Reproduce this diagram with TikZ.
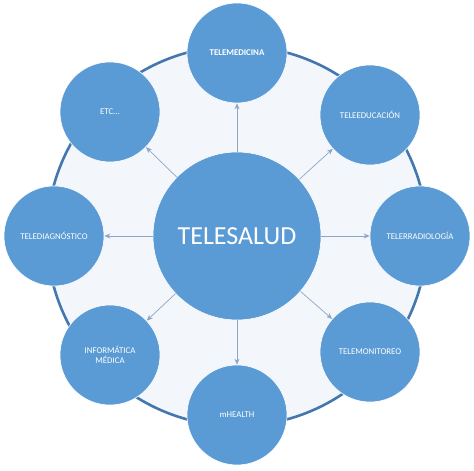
\documentclass[tikz,border=0pt]{standalone}
\usepackage{fontspec}
\setmainfont{Carlito}
\usetikzlibrary{arrows.meta}
\definecolor{bolablue}{HTML}{5B9BD5}
\definecolor{ringblue}{HTML}{4477AE}
\definecolor{ringfill}{HTML}{F3F6FB}
\definecolor{flecha}{HTML}{8EA6C6}
\begin{document}
\begin{tikzpicture}[x=1pt, y=1pt,
    bola/.style={circle, fill=bolablue, draw=white, line width=0.6pt, minimum size=100pt,
      inner sep=1pt, text=white, font=\fontsize{8.8}{10.5}\selectfont, align=center},
    centro/.style={circle, fill=bolablue, draw=white, line width=0.6pt, minimum size=168pt,
      text=white, font=\fontsize{26}{30}\selectfont},
    flechita/.style={draw=flecha, line width=0.7pt, -{Stealth[length=6pt, width=5pt]}}]
    \useasboundingbox (0, 0) rectangle (474, 471);
    % ring behind everything
    \draw [ringblue, fill=ringfill, line width=2.6pt] (237, 235) circle (190);
    \node [centro] (tsalud) at (237, 235) {TELESALUD};
    \node [bola, font=\fontsize{8.8}{10.5}\selectfont\bfseries] (tmed) at (237, 418) {TELEMEDICINA};
    \node [bola] (tedu) at (370, 356) {TELEEDUCACIÓN};
    \node [bola] (trad) at (420, 235) {TELERRADIOLOGÍA};
    \node [bola] (tmon) at (370, 119) {TELEMONITOREO};
    \node [bola] (mhealth) at (237, 56) {mHEALTH};
    \node [bola] (infmed) at (110, 116) {INFORMÁTICA\\MÉDICA};
    \node [bola] (tdiag) at (54, 235) {TELEDIAGNÓSTICO};
    \node [bola] (etc) at (110, 359) {ETC...};
    % arrows out of the centre
    \foreach \n in {tmed, tedu, trad, tmon, mhealth, infmed, tdiag, etc}
      \draw [flechita] (tsalud) -- (\n);
  \end{tikzpicture}
\end{document}
